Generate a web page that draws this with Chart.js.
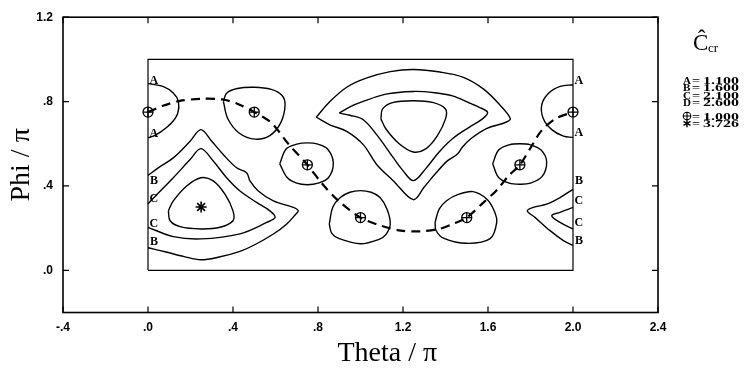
<!DOCTYPE html>
<html>
<head>
<meta charset="utf-8">
<title>Ccr contours</title>
<script src="https://cdn.jsdelivr.net/npm/chart.js"></script>
<style>
  html, body { margin: 0; padding: 0; background: #fff; }
  .wrap { width: 748px; height: 368px; }
</style>
</head>
<body>
<div class="wrap"><canvas id="ccrChart" width="748" height="368"></canvas></div>
<script>
// axis ticks
const xTicks = [-0.4, 0, 0.4, 0.8, 1.2, 1.6, 2.0, 2.4];
const xTickLabels = ['-.4', '.0', '.4', '.8', '1.2', '1.6', '2.0', '2.4'];
const yTicks = [0, 0.4, 0.8, 1.2];
const yTickLabels = ['.0', '.4', '.8', '1.2'];

// theta/pi, phi/pi domain
const boxCorners = [[0, 0], [2, 0], [2, 1], [0, 1], [0, 0]];

// A = 1.100 contours
const aLeft = [[0, 0.885], [0.07, 0.872], [0.12, 0.84], [0.143, 0.80], [0.14, 0.745], [0.11, 0.698], [0.065, 0.66], [0.025, 0.636], [0, 0.628]];
const aRight = [[2, 0.88], [1.94, 0.872], [1.885, 0.84], [1.853, 0.785], [1.86, 0.72], [1.90, 0.667], [1.955, 0.636], [2, 0.63]];
const aLoop1 = [[0.355, 0.80], [0.37, 0.84], [0.42, 0.862], [0.5, 0.868], [0.58, 0.858], [0.63, 0.83], [0.645, 0.785], [0.625, 0.70], [0.575, 0.64], [0.505, 0.622], [0.43, 0.65], [0.375, 0.72], [0.355, 0.80]];
const aLoop2 = [[0.62, 0.505], [0.65, 0.575], [0.70, 0.598], [0.75, 0.604], [0.80, 0.598], [0.845, 0.575], [0.872, 0.51], [0.85, 0.44], [0.80, 0.413], [0.75, 0.406], [0.70, 0.413], [0.655, 0.44], [0.62, 0.505]];
const aLoop3 = [[0.853, 0.22], [0.87, 0.30], [0.905, 0.345], [0.95, 0.37], [1.0, 0.378], [1.05, 0.37], [1.092, 0.345], [1.125, 0.29], [1.14, 0.22], [1.12, 0.17], [1.09, 0.148], [1.0, 0.126], [0.9, 0.15], [0.865, 0.175], [0.853, 0.22]];
const aLoop4 = [[1.351, 0.227], [1.37, 0.29], [1.405, 0.33], [1.46, 0.36], [1.53, 0.373], [1.595, 0.337], [1.63, 0.28], [1.641, 0.227], [1.61, 0.15], [1.50, 0.128], [1.39, 0.153], [1.355, 0.19], [1.351, 0.227]];
const aLoop5 = [[1.622, 0.505], [1.65, 0.57], [1.70, 0.595], [1.75, 0.60], [1.80, 0.595], [1.85, 0.57], [1.876, 0.515], [1.855, 0.445], [1.80, 0.413], [1.75, 0.408], [1.70, 0.413], [1.65, 0.44], [1.622, 0.505]];

// B = 1.600 contours
const bLeft = [[0, 0.45], [0.05, 0.487], [0.119, 0.533], [0.198, 0.612], [0.249, 0.667], [0.30, 0.612], [0.354, 0.549], [0.417, 0.486], [0.464, 0.463], [0.48, 0.424], [0.519, 0.376], [0.59, 0.329], [0.684, 0.298], [0.707, 0.282], [0.692, 0.262], [0.653, 0.22], [0.59, 0.172], [0.50, 0.12], [0.433, 0.09], [0.33, 0.062], [0.249, 0.05], [0.17, 0.065], [0.08, 0.088], [0, 0.107]];
const bCenter = [[0.792, 0.726], [0.856, 0.80], [0.935, 0.868], [1.03, 0.912], [1.14, 0.942], [1.249, 0.952], [1.374, 0.94], [1.484, 0.915], [1.578, 0.86], [1.656, 0.784], [1.705, 0.72], [1.684, 0.702], [1.59, 0.671], [1.519, 0.624], [1.48, 0.585], [1.455, 0.55], [1.41, 0.52], [1.354, 0.46], [1.30, 0.395], [1.249, 0.335], [1.155, 0.424], [1.076, 0.502], [1.013, 0.596], [0.935, 0.659], [0.856, 0.69], [0.792, 0.726]];
const bRight = [[2, 0.384], [1.939, 0.345], [1.876, 0.314], [1.813, 0.298], [1.785, 0.282], [1.821, 0.251], [1.892, 0.188], [1.955, 0.141], [2, 0.118]];

// C = 2.100 contours
const cLeft = [[0, 0.315], [0.033, 0.35], [0.119, 0.439], [0.198, 0.525], [0.249, 0.577], [0.307, 0.518], [0.37, 0.439], [0.433, 0.376], [0.511, 0.322], [0.574, 0.282], [0.598, 0.251], [0.559, 0.227], [0.433, 0.173], [0.249, 0.149], [0.119, 0.16], [0, 0.204]];
const cCenter = [[0.90, 0.745], [0.95, 0.775], [1.0, 0.796], [1.119, 0.835], [1.249, 0.848], [1.35, 0.842], [1.433, 0.827], [1.52, 0.79], [1.559, 0.773], [1.598, 0.749], [1.574, 0.718], [1.511, 0.678], [1.433, 0.624], [1.37, 0.561], [1.307, 0.482], [1.249, 0.425], [1.198, 0.475], [1.155, 0.533], [1.076, 0.643], [1.013, 0.714], [0.95, 0.735], [0.90, 0.745]];
const cRight = [[2, 0.298], [1.939, 0.275], [1.90, 0.259], [1.939, 0.227], [2, 0.196]];

// D = 2.600 contours
const dLeft = [[0.096, 0.282], [0.119, 0.329], [0.182, 0.40], [0.249, 0.439], [0.307, 0.424], [0.362, 0.361], [0.40, 0.282], [0.40, 0.235], [0.339, 0.204], [0.249, 0.196], [0.151, 0.207], [0.104, 0.235], [0.096, 0.282]];
const dCenter = [[1.096, 0.718], [1.104, 0.765], [1.151, 0.795], [1.249, 0.804], [1.339, 0.796], [1.40, 0.765], [1.40, 0.718], [1.362, 0.639], [1.307, 0.576], [1.249, 0.561], [1.182, 0.60], [1.119, 0.671], [1.096, 0.718]];

// minimum path (dashed)
const minPath = [[0, 0.75], [0.07, 0.78], [0.15, 0.803], [0.25, 0.813], [0.35, 0.81], [0.42, 0.79], [0.5, 0.75], [0.58, 0.70], [0.66, 0.6], [0.75, 0.5], [0.82, 0.41], [0.89, 0.335], [1.0, 0.25], [1.1, 0.21], [1.19, 0.188], [1.28, 0.185], [1.37, 0.196], [1.44, 0.222], [1.5, 0.25], [1.578, 0.321], [1.641, 0.38], [1.696, 0.447], [1.75, 0.5], [1.8, 0.58], [1.85, 0.66], [1.92, 0.72], [2.0, 0.75]];

// minima (Ccr = 1.000) and maximum (Ccr = 3.726)
const minTheta = [0, 0.5, 0.75, 1.0, 1.5, 1.75, 2.0];
const minPhi = [0.75, 0.75, 0.5, 0.25, 0.25, 0.5, 0.75];
const maxTheta = [0.25];
const maxPhi = [0.30];

// contour letters at the domain edges
const edgeLabels = [
  [0.028, 0.90, 'A'], [0.028, 0.645, 'A'], [0.028, 0.424, 'B'], [0.028, 0.337, 'C'], [0.028, 0.22, 'C'], [0.028, 0.133, 'B'],
  [2.028, 0.90, 'A'], [2.028, 0.65, 'A'], [2.028, 0.424, 'B'], [2.028, 0.33, 'C'], [2.028, 0.223, 'C'], [2.028, 0.141, 'B']
];

// legend
const legendKeys = ['A', 'B', 'C', 'D'];
const legendValues = ['1.100', '1.600', '2.100', '2.600'];
const markerValues = ['1.000', '3.726'];

const toPts = arr => arr.map(([x, y]) => ({ x, y }));

function contour(arr) {
  return {
    data: toPts(arr),
    showLine: true,
    borderColor: '#000',
    borderWidth: 1.4,
    pointRadius: 0,
    tension: 0.35,
    fill: false
  };
}

// first dataset is painted last (on top)
const datasets = [
  {
    data: maxTheta.map((x, i) => ({ x, y: maxPhi[i] })),
    pointStyle: 'star', pointRadius: 5.5, borderWidth: 1.6,
    borderColor: '#000'
  },
  {
    data: minTheta.map((x, i) => ({ x, y: minPhi[i] })),
    pointStyle: 'cross', pointRadius: 5, borderWidth: 1.3,
    borderColor: '#000'
  },
  {
    data: minTheta.map((x, i) => ({ x, y: minPhi[i] })),
    pointStyle: 'circle', pointRadius: 5, borderWidth: 1.3,
    borderColor: '#000', backgroundColor: 'rgba(0,0,0,0)'
  },
  {
    data: toPts(minPath),
    showLine: true,
    borderColor: '#000',
    borderWidth: 2.2,
    borderDash: [9, 6],
    pointRadius: 0,
    tension: 0.3
  },
  contour(aLeft), contour(aRight), contour(aLoop1), contour(aLoop2), contour(aLoop3), contour(aLoop4), contour(aLoop5),
  contour(bLeft), contour(bCenter), contour(bRight),
  contour(cLeft), contour(cCenter), contour(cRight),
  contour(dLeft), contour(dCenter),
  { data: toPts(boxCorners), showLine: true, borderColor: '#000', borderWidth: 1.2, pointRadius: 0, tension: 0 }
];

// outer frame with inward tick marks on all four sides
const framePlugin = {
  id: 'frame',
  afterDatasetsDraw(chart) {
    const { ctx, chartArea: a, scales } = chart;
    ctx.save();
    ctx.strokeStyle = '#000';
    ctx.lineWidth = 1.6;
    ctx.strokeRect(a.left, a.top, a.right - a.left, a.bottom - a.top);
    ctx.lineWidth = 1.2;
    const len = 6;
    ctx.beginPath();
    xTicks.forEach(v => {
      const px = scales.x.getPixelForValue(v);
      ctx.moveTo(px, a.bottom); ctx.lineTo(px, a.bottom - len);
      ctx.moveTo(px, a.top); ctx.lineTo(px, a.top + len);
    });
    yTicks.forEach(v => {
      const py = scales.y.getPixelForValue(v);
      ctx.moveTo(a.left, py); ctx.lineTo(a.left + len, py);
      ctx.moveTo(a.right, py); ctx.lineTo(a.right - len, py);
    });
    ctx.stroke();

    // contour letters
    ctx.fillStyle = '#000';
    ctx.font = 'bold 12px "Liberation Serif"';
    ctx.textAlign = 'center';
    ctx.textBaseline = 'middle';
    edgeLabels.forEach(([t, p, s]) => {
      ctx.fillText(s, scales.x.getPixelForValue(t), scales.y.getPixelForValue(p));
    });

    // x axis title
    ctx.font = '28px "Liberation Serif"';
    ctx.textBaseline = 'alphabetic';
    ctx.fillText('Theta / \u03c0', a.left + (a.right - a.left) * 0.545, 361);
    ctx.restore();
  }
};

// Ccr key at the right
const keyPlugin = {
  id: 'ccrKey',
  afterDraw(chart) {
    const ctx = chart.ctx;
    const x0 = chart.chartArea.right + 25;
    ctx.save();
    ctx.fillStyle = '#000';
    ctx.strokeStyle = '#000';
    ctx.textBaseline = 'alphabetic';
    ctx.textAlign = 'left';
    ctx.font = '23px "Liberation Serif"';
    ctx.fillText('\u0108', x0 + 10, 50);
    ctx.font = '13px "Liberation Serif"';
    ctx.fillText('cr', x0 + 25, 52);

    const rowFont = 'bold 11px "Liberation Serif"';
    const row = (y, drawKey, value) => {
      drawKey(y);
      ctx.save();
      ctx.translate(x0 + 9, y);
      ctx.scale(1.3, 1);
      ctx.font = rowFont;
      ctx.fillText('=', 0, 0);
      ctx.restore();
      ctx.save();
      ctx.translate(x0 + 20, y);
      ctx.scale(1.45, 1);
      ctx.font = rowFont;
      ctx.fillText(value, 0, 0);
      ctx.restore();
    };
    legendKeys.forEach((k, i) => {
      row(84 + i * 7.3, y => {
        ctx.font = rowFont;
        ctx.fillText(k, x0, y);
      }, legendValues[i]);
    });
    // circled plus
    row(120, y => {
      ctx.lineWidth = 1.1;
      ctx.beginPath();
      ctx.arc(x0 + 4, y - 4, 3.8, 0, Math.PI * 2);
      ctx.moveTo(x0 + 0.2, y - 4); ctx.lineTo(x0 + 7.8, y - 4);
      ctx.moveTo(x0 + 4, y - 7.8); ctx.lineTo(x0 + 4, y - 0.2);
      ctx.stroke();
    }, markerValues[0]);
    // asterisk
    row(127.3, y => {
      ctx.lineWidth = 1.4;
      ctx.beginPath();
      for (let k = 0; k < 3; k++) {
        const ang = Math.PI / 2 + k * Math.PI / 3;
        ctx.moveTo(x0 + 4 - 4 * Math.cos(ang), y - 4 - 4 * Math.sin(ang));
        ctx.lineTo(x0 + 4 + 4 * Math.cos(ang), y - 4 + 4 * Math.sin(ang));
      }
      ctx.stroke();
    }, markerValues[1]);
    ctx.restore();
  }
};

const tickFont = { family: '"Liberation Sans"', size: 12, weight: 'bold' };
const titleFont = { family: '"Liberation Serif"', size: 28 };

new Chart(document.getElementById('ccrChart'), {
  type: 'scatter',
  data: { datasets },
  options: {
    responsive: false,
    animation: false,
    devicePixelRatio: 1,
    layout: { padding: { left: 0, top: 15, right: 90, bottom: 0 } },
    plugins: { legend: { display: false }, tooltip: { enabled: false } },
    scales: {
      x: {
        type: 'linear',
        min: -0.4,
        max: 2.4,
        afterBuildTicks: axis => { axis.ticks = xTicks.map(v => ({ value: v })); },
        afterFit: s => { s.height = 55.5; },
        grid: { display: false, drawTicks: false },
        border: { display: false },
        ticks: {
          color: '#000', font: tickFont, padding: 8, maxRotation: 0, autoSkip: false,
          callback: (v, i) => xTickLabels[i]
        },
        title: { display: false }
      },
      y: {
        type: 'linear',
        min: -0.2,
        max: 1.2,
        afterBuildTicks: axis => { axis.ticks = yTicks.map(v => ({ value: v })); },
        afterFit: s => { s.width = 63; },
        grid: { display: false, drawTicks: false },
        border: { display: false },
        ticks: {
          color: '#000', font: tickFont, padding: 10, autoSkip: false,
          callback: (v, i) => yTickLabels[i]
        },
        title: { display: true, text: 'Phi / \u03c0', color: '#000', font: titleFont, padding: { top: 5, bottom: 0 } }
      }
    }
  },
  plugins: [framePlugin, keyPlugin]
});
</script>
</body>
</html>
